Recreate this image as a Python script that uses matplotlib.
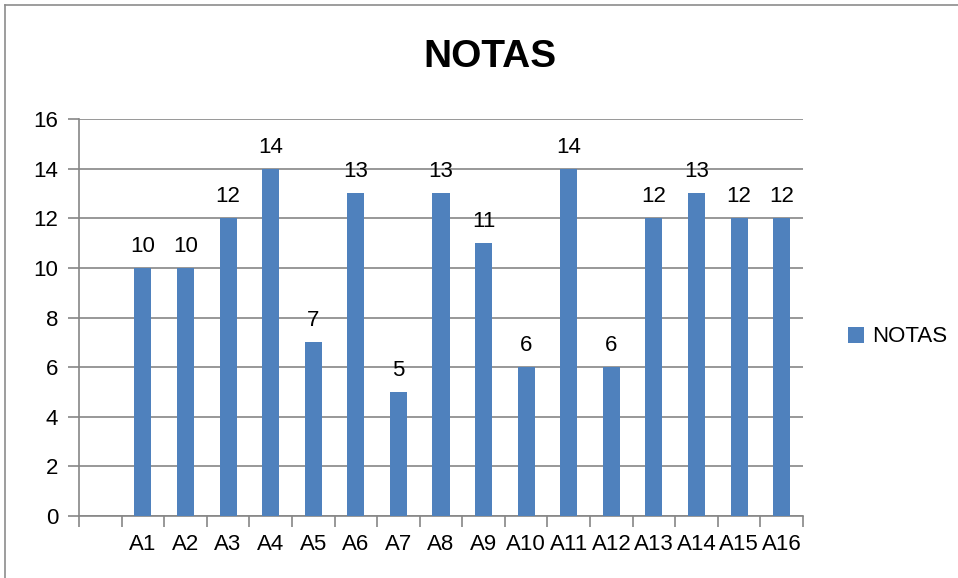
import numpy as np
import matplotlib
matplotlib.use("Agg")
import matplotlib.pyplot as plt
from matplotlib.lines import Line2D

plt.rcParams['font.family'] = ['Liberation Sans', 'DejaVu Sans']

# first slot of the category axis is empty in the original
categories = ["", "A1", "A2", "A3", "A4", "A5", "A6", "A7", "A8",
              "A9", "A10", "A11", "A12", "A13", "A14", "A15", "A16"]
notas = [np.nan, 10, 10, 12, 14, 7, 13, 5, 13, 11, 6, 14, 6, 12, 13, 12, 12]
series_name = "NOTAS"

BAR = "#4F81BD"
GRID = "#868686"

fig = plt.figure(figsize=(9.58, 5.78), dpi=100)
ax = fig.add_axes([79/958, 62/578, 724/958, 397/578])

x = np.arange(len(categories))
vals = np.array(notas, dtype=float)
bars = ax.bar(x, np.nan_to_num(vals), width=0.4, color=BAR, label=series_name, zorder=3)
for xi, v in zip(x, vals):
    if not np.isnan(v):
        ax.annotate(f"{int(v)}", (xi, v), xytext=(0, 8), textcoords="offset points",
                    ha="center", va="bottom", fontsize=16)

ax.set_xlim(-0.5, len(categories) - 0.5)
ax.set_ylim(0, 16)
ax.set_yticks(range(0, 17, 2))
ax.grid(axis="y", color=GRID, linewidth=1.2, zorder=0)

# tick marks on slot boundaries, labels in slot centres
ax.set_xticks(np.arange(-0.5, len(categories)), minor=False)
ax.set_xticklabels([])
ax.set_xticks(x, minor=True)
ax.set_xticklabels(categories, minor=True, fontsize=16)
ax.tick_params(axis="x", which="major", length=8, color=GRID, width=1.2)
ax.tick_params(axis="x", which="minor", length=0, pad=13)
ax.tick_params(axis="y", length=8, color=GRID, width=1.2, labelsize=16, pad=7)

for s in ("top", "right"):
    ax.spines[s].set_visible(False)
for s in ("left", "bottom"):
    ax.spines[s].set_color(GRID)
    ax.spines[s].set_linewidth(1.2)

fig.text(490/958, 1 - 57/578, "NOTAS", ha="center", va="center",
         fontsize=28, fontweight="bold")

fig.legend(handles=[bars], labels=[series_name], loc="center left",
           bbox_to_anchor=(828/958, 1 - 337/578), frameon=False,
           fontsize=16, handlelength=0.7, handleheight=0.7, handletextpad=0.4)

# chart area frame (only top and left edges visible in the crop)
fig.add_artist(Line2D([5/958, 5/958], [0, 1 - 5/578], transform=fig.transFigure,
                      color="#8c8c8c", linewidth=1.2))
fig.add_artist(Line2D([5/958, 1], [1 - 5/578, 1 - 5/578], transform=fig.transFigure,
                      color="#8c8c8c", linewidth=1.2))

fig.savefig("out.png", dpi=100)
